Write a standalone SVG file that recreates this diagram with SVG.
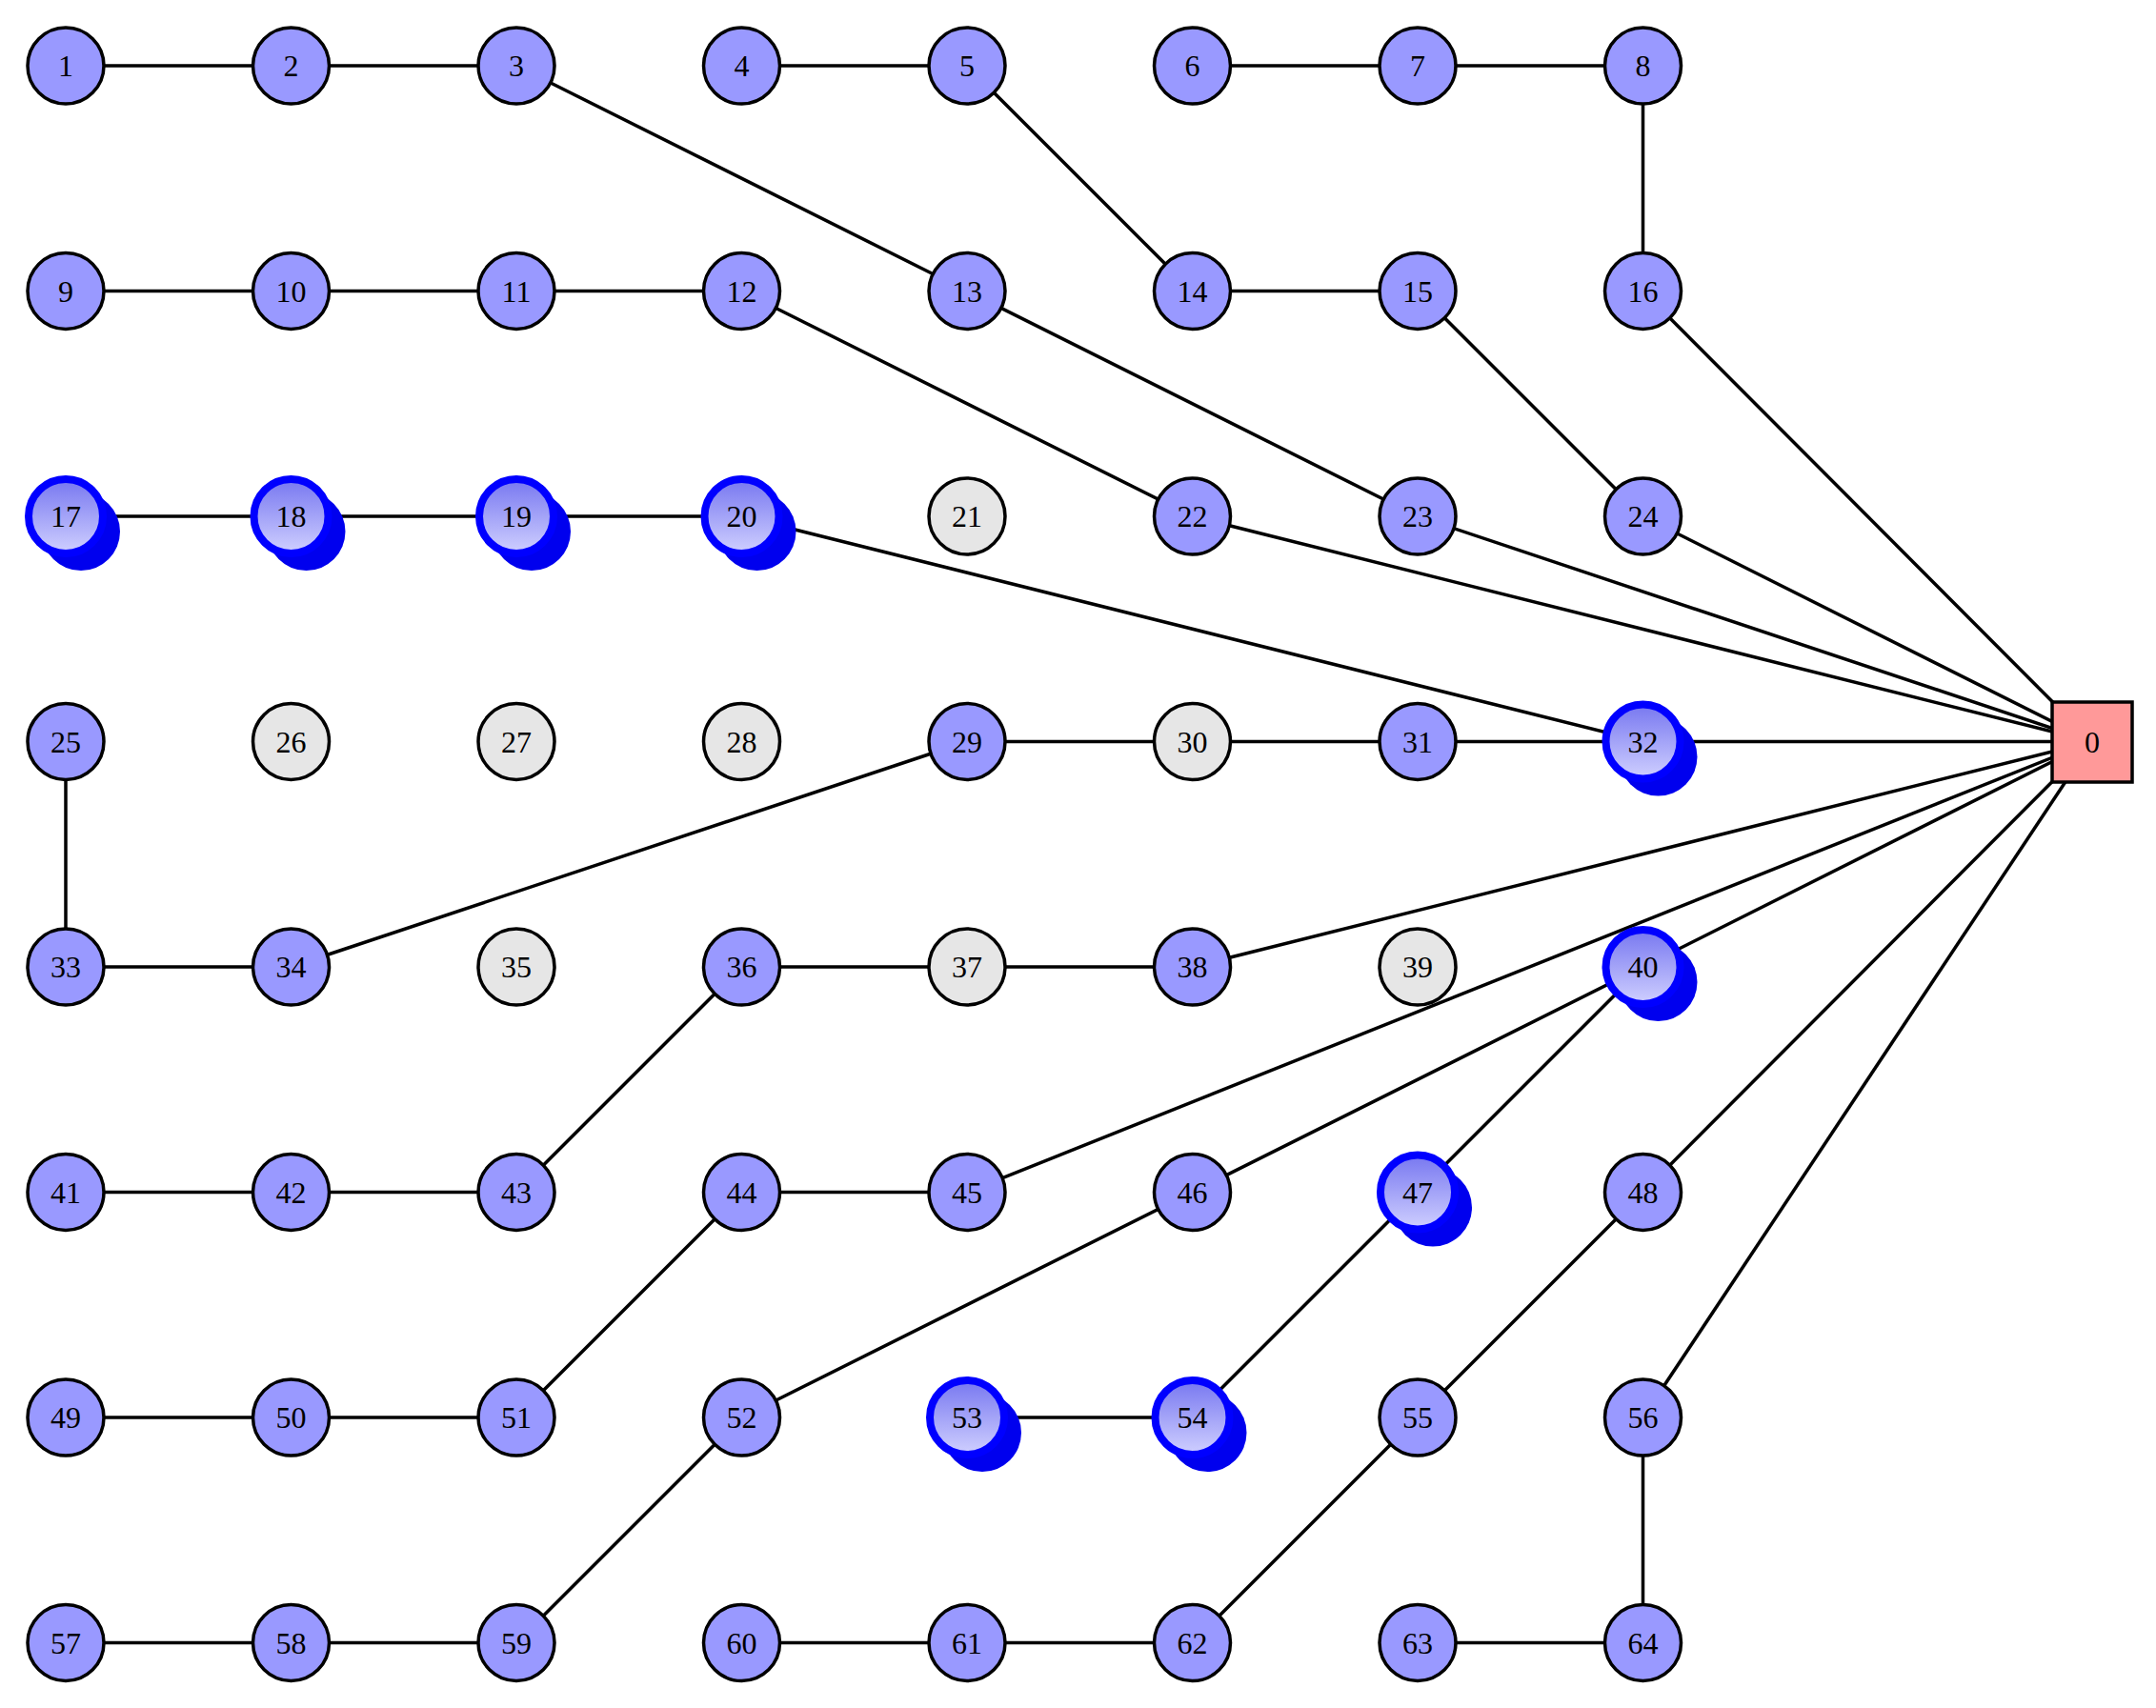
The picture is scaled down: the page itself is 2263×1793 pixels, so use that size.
<svg xmlns="http://www.w3.org/2000/svg" width="2263" height="1793" viewBox="0 0 2263 1793">
<style>
.e{stroke:#000;stroke-width:3.5;fill:none}
.n{fill:#9999ff;stroke:#000;stroke-width:3.5}
.g{fill:#e6e6e6;stroke:#000;stroke-width:3.5}
.h{fill:url(#gr);stroke:#0000ff;stroke-width:8}
.s{fill:#0000ee}
text{font-family:"Liberation Serif",serif;font-size:32px;text-anchor:middle;dominant-baseline:central;fill:#000}
</style>
<defs>
<linearGradient id="gr" x1="0" y1="0" x2="0" y2="1"><stop offset="0" stop-color="#7777f0"/><stop offset="1" stop-color="#d0d0ff"/></linearGradient>
</defs>
<g id="connectors">
<line class="e" x1="69" y1="69" x2="305.5" y2="69"/>
<line class="e" x1="305.5" y1="69" x2="542" y2="69"/>
<line class="e" x1="542" y1="69" x2="1015" y2="305.5"/>
<line class="e" x1="778.5" y1="69" x2="1015" y2="69"/>
<line class="e" x1="1015" y1="69" x2="1251.5" y2="305.5"/>
<line class="e" x1="1251.5" y1="69" x2="1488" y2="69"/>
<line class="e" x1="1488" y1="69" x2="1724.5" y2="69"/>
<line class="e" x1="1724.5" y1="69" x2="1724.5" y2="305.5"/>
<line class="e" x1="69" y1="305.5" x2="778.5" y2="305.5"/>
<line class="e" x1="778.5" y1="305.5" x2="1251.5" y2="542"/>
<line class="e" x1="1015" y1="305.5" x2="1488" y2="542"/>
<line class="e" x1="1251.5" y1="305.5" x2="1488" y2="305.5"/>
<line class="e" x1="1488" y1="305.5" x2="1724.5" y2="542"/>
<line class="e" x1="1724.5" y1="305.5" x2="2196" y2="778.5"/>
<line class="e" x1="69" y1="542" x2="778.5" y2="542"/>
<line class="e" x1="778.5" y1="542" x2="1724.5" y2="778.5"/>
<line class="e" x1="1251.5" y1="542" x2="2196" y2="778.5"/>
<line class="e" x1="1488" y1="542" x2="2196" y2="778.5"/>
<line class="e" x1="1724.5" y1="542" x2="2196" y2="778.5"/>
<line class="e" x1="69" y1="778.5" x2="69" y2="1015"/>
<line class="e" x1="1015" y1="778.5" x2="2196" y2="778.5"/>
<line class="e" x1="1015" y1="778.5" x2="305.5" y2="1015"/>
<line class="e" x1="69" y1="1015" x2="305.5" y2="1015"/>
<line class="e" x1="778.5" y1="1015" x2="1251.5" y2="1015"/>
<line class="e" x1="1251.5" y1="1015" x2="2196" y2="778.5"/>
<line class="e" x1="778.5" y1="1015" x2="542" y2="1251.5"/>
<line class="e" x1="1724.5" y1="1015" x2="2196" y2="778.5"/>
<line class="e" x1="1724.5" y1="1015" x2="1251.5" y2="1251.5"/>
<line class="e" x1="1724.5" y1="1015" x2="1251.5" y2="1488"/>
<line class="e" x1="69" y1="1251.5" x2="542" y2="1251.5"/>
<line class="e" x1="778.5" y1="1251.5" x2="1015" y2="1251.5"/>
<line class="e" x1="1015" y1="1251.5" x2="2196" y2="778.5"/>
<line class="e" x1="778.5" y1="1251.5" x2="542" y2="1488"/>
<line class="e" x1="1251.5" y1="1251.5" x2="778.5" y2="1488"/>
<line class="e" x1="1724.5" y1="1251.5" x2="2196" y2="778.5"/>
<line class="e" x1="1724.5" y1="1251.5" x2="1488" y2="1488"/>
<line class="e" x1="69" y1="1488" x2="542" y2="1488"/>
<line class="e" x1="1015" y1="1488" x2="1251.5" y2="1488"/>
<line class="e" x1="1724.5" y1="1488" x2="2196" y2="778.5"/>
<line class="e" x1="1724.5" y1="1488" x2="1724.5" y2="1724.5"/>
<line class="e" x1="778.5" y1="1488" x2="542" y2="1724.5"/>
<line class="e" x1="1488" y1="1488" x2="1251.5" y2="1724.5"/>
<line class="e" x1="69" y1="1724.5" x2="542" y2="1724.5"/>
<line class="e" x1="778.5" y1="1724.5" x2="1251.5" y2="1724.5"/>
<line class="e" x1="1488" y1="1724.5" x2="1724.5" y2="1724.5"/>
</g>
<g id="n0"><rect x="2154" y="737" width="84" height="84" fill="#ff9999" stroke="#000" stroke-width="3.5"/><text x="2196" y="778.5">0</text></g>
<g id="n1"><circle class="n" cx="69" cy="69" r="40"/><text x="69" y="69">1</text></g>
<g id="n2"><circle class="n" cx="305.5" cy="69" r="40"/><text x="305.5" y="69">2</text></g>
<g id="n3"><circle class="n" cx="542" cy="69" r="40"/><text x="542" y="69">3</text></g>
<g id="n4"><circle class="n" cx="778.5" cy="69" r="40"/><text x="778.5" y="69">4</text></g>
<g id="n5"><circle class="n" cx="1015" cy="69" r="40"/><text x="1015" y="69">5</text></g>
<g id="n6"><circle class="n" cx="1251.5" cy="69" r="40"/><text x="1251.5" y="69">6</text></g>
<g id="n7"><circle class="n" cx="1488" cy="69" r="40"/><text x="1488" y="69">7</text></g>
<g id="n8"><circle class="n" cx="1724.5" cy="69" r="40"/><text x="1724.5" y="69">8</text></g>
<g id="n9"><circle class="n" cx="69" cy="305.5" r="40"/><text x="69" y="305.5">9</text></g>
<g id="n10"><circle class="n" cx="305.5" cy="305.5" r="40"/><text x="305.5" y="305.5">10</text></g>
<g id="n11"><circle class="n" cx="542" cy="305.5" r="40"/><text x="542" y="305.5">11</text></g>
<g id="n12"><circle class="n" cx="778.5" cy="305.5" r="40"/><text x="778.5" y="305.5">12</text></g>
<g id="n13"><circle class="n" cx="1015" cy="305.5" r="40"/><text x="1015" y="305.5">13</text></g>
<g id="n14"><circle class="n" cx="1251.5" cy="305.5" r="40"/><text x="1251.5" y="305.5">14</text></g>
<g id="n15"><circle class="n" cx="1488" cy="305.5" r="40"/><text x="1488" y="305.5">15</text></g>
<g id="n16"><circle class="n" cx="1724.5" cy="305.5" r="40"/><text x="1724.5" y="305.5">16</text></g>
<g id="n17"><circle class="s" cx="85" cy="558" r="41"/><circle class="h" cx="69" cy="542" r="39"/><text x="69" y="542">17</text></g>
<g id="n18"><circle class="s" cx="321.5" cy="558" r="41"/><circle class="h" cx="305.5" cy="542" r="39"/><text x="305.5" y="542">18</text></g>
<g id="n19"><circle class="s" cx="558" cy="558" r="41"/><circle class="h" cx="542" cy="542" r="39"/><text x="542" y="542">19</text></g>
<g id="n20"><circle class="s" cx="794.5" cy="558" r="41"/><circle class="h" cx="778.5" cy="542" r="39"/><text x="778.5" y="542">20</text></g>
<g id="n21"><circle class="g" cx="1015" cy="542" r="40"/><text x="1015" y="542">21</text></g>
<g id="n22"><circle class="n" cx="1251.5" cy="542" r="40"/><text x="1251.5" y="542">22</text></g>
<g id="n23"><circle class="n" cx="1488" cy="542" r="40"/><text x="1488" y="542">23</text></g>
<g id="n24"><circle class="n" cx="1724.5" cy="542" r="40"/><text x="1724.5" y="542">24</text></g>
<g id="n25"><circle class="n" cx="69" cy="778.5" r="40"/><text x="69" y="778.5">25</text></g>
<g id="n26"><circle class="g" cx="305.5" cy="778.5" r="40"/><text x="305.5" y="778.5">26</text></g>
<g id="n27"><circle class="g" cx="542" cy="778.5" r="40"/><text x="542" y="778.5">27</text></g>
<g id="n28"><circle class="g" cx="778.5" cy="778.5" r="40"/><text x="778.5" y="778.5">28</text></g>
<g id="n29"><circle class="n" cx="1015" cy="778.5" r="40"/><text x="1015" y="778.5">29</text></g>
<g id="n30"><circle class="g" cx="1251.5" cy="778.5" r="40"/><text x="1251.5" y="778.5">30</text></g>
<g id="n31"><circle class="n" cx="1488" cy="778.5" r="40"/><text x="1488" y="778.5">31</text></g>
<g id="n32"><circle class="s" cx="1740.5" cy="794.5" r="41"/><circle class="h" cx="1724.5" cy="778.5" r="39"/><text x="1724.5" y="778.5">32</text></g>
<g id="n33"><circle class="n" cx="69" cy="1015" r="40"/><text x="69" y="1015">33</text></g>
<g id="n34"><circle class="n" cx="305.5" cy="1015" r="40"/><text x="305.5" y="1015">34</text></g>
<g id="n35"><circle class="g" cx="542" cy="1015" r="40"/><text x="542" y="1015">35</text></g>
<g id="n36"><circle class="n" cx="778.5" cy="1015" r="40"/><text x="778.5" y="1015">36</text></g>
<g id="n37"><circle class="g" cx="1015" cy="1015" r="40"/><text x="1015" y="1015">37</text></g>
<g id="n38"><circle class="n" cx="1251.5" cy="1015" r="40"/><text x="1251.5" y="1015">38</text></g>
<g id="n39"><circle class="g" cx="1488" cy="1015" r="40"/><text x="1488" y="1015">39</text></g>
<g id="n40"><circle class="s" cx="1740.5" cy="1031" r="41"/><circle class="h" cx="1724.5" cy="1015" r="39"/><text x="1724.5" y="1015">40</text></g>
<g id="n41"><circle class="n" cx="69" cy="1251.5" r="40"/><text x="69" y="1251.5">41</text></g>
<g id="n42"><circle class="n" cx="305.5" cy="1251.5" r="40"/><text x="305.5" y="1251.5">42</text></g>
<g id="n43"><circle class="n" cx="542" cy="1251.5" r="40"/><text x="542" y="1251.5">43</text></g>
<g id="n44"><circle class="n" cx="778.5" cy="1251.5" r="40"/><text x="778.5" y="1251.5">44</text></g>
<g id="n45"><circle class="n" cx="1015" cy="1251.5" r="40"/><text x="1015" y="1251.5">45</text></g>
<g id="n46"><circle class="n" cx="1251.5" cy="1251.5" r="40"/><text x="1251.5" y="1251.5">46</text></g>
<g id="n47"><circle class="s" cx="1504" cy="1267.5" r="41"/><circle class="h" cx="1488" cy="1251.5" r="39"/><text x="1488" y="1251.5">47</text></g>
<g id="n48"><circle class="n" cx="1724.5" cy="1251.5" r="40"/><text x="1724.5" y="1251.5">48</text></g>
<g id="n49"><circle class="n" cx="69" cy="1488" r="40"/><text x="69" y="1488">49</text></g>
<g id="n50"><circle class="n" cx="305.5" cy="1488" r="40"/><text x="305.5" y="1488">50</text></g>
<g id="n51"><circle class="n" cx="542" cy="1488" r="40"/><text x="542" y="1488">51</text></g>
<g id="n52"><circle class="n" cx="778.5" cy="1488" r="40"/><text x="778.5" y="1488">52</text></g>
<g id="n53"><circle class="s" cx="1031" cy="1504" r="41"/><circle class="h" cx="1015" cy="1488" r="39"/><text x="1015" y="1488">53</text></g>
<g id="n54"><circle class="s" cx="1267.5" cy="1504" r="41"/><circle class="h" cx="1251.5" cy="1488" r="39"/><text x="1251.5" y="1488">54</text></g>
<g id="n55"><circle class="n" cx="1488" cy="1488" r="40"/><text x="1488" y="1488">55</text></g>
<g id="n56"><circle class="n" cx="1724.5" cy="1488" r="40"/><text x="1724.5" y="1488">56</text></g>
<g id="n57"><circle class="n" cx="69" cy="1724.5" r="40"/><text x="69" y="1724.5">57</text></g>
<g id="n58"><circle class="n" cx="305.5" cy="1724.5" r="40"/><text x="305.5" y="1724.5">58</text></g>
<g id="n59"><circle class="n" cx="542" cy="1724.5" r="40"/><text x="542" y="1724.5">59</text></g>
<g id="n60"><circle class="n" cx="778.5" cy="1724.5" r="40"/><text x="778.5" y="1724.5">60</text></g>
<g id="n61"><circle class="n" cx="1015" cy="1724.5" r="40"/><text x="1015" y="1724.5">61</text></g>
<g id="n62"><circle class="n" cx="1251.5" cy="1724.5" r="40"/><text x="1251.5" y="1724.5">62</text></g>
<g id="n63"><circle class="n" cx="1488" cy="1724.5" r="40"/><text x="1488" y="1724.5">63</text></g>
<g id="n64"><circle class="n" cx="1724.5" cy="1724.5" r="40"/><text x="1724.5" y="1724.5">64</text></g>
</svg>
